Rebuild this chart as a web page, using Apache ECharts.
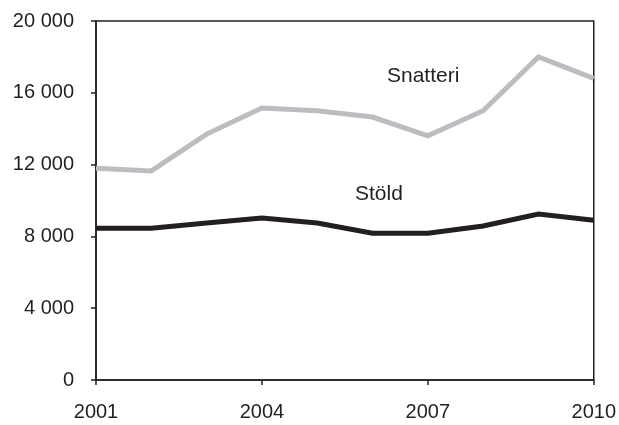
<!DOCTYPE html>
<html>
<head>
<meta charset="utf-8">
<script src="https://cdn.jsdelivr.net/npm/echarts@6/dist/echarts.min.js"></script>
<style>
html,body{margin:0;padding:0;background:#fff;}
#chart{width:619px;height:425px;}
</style>
</head>
<body>
<div id="chart"></div>
<script>
var years = ['2001','2002','2003','2004','2005','2006','2007','2008','2009','2010'];
var snatteri = [11800, 11650, 13700, 15150, 15000, 14650, 13600, 15000, 18000, 16800];
var stold = [8450, 8450, 8750, 9020, 8750, 8180, 8180, 8580, 9250, 8900];
var yTicks = [0, 4000, 8000, 12000, 16000, 20000];

var FONT = '"Liberation Sans", Arial, sans-serif';
var DARK = '#231f20';
var GRAY = '#bcbdc0';

var chart = echarts.init(document.getElementById('chart'), null, {renderer: 'canvas'});
chart.setOption({
  animation: false,
  backgroundColor: '#fff',
  grid: {left: 96, right: 25, top: 21, bottom: 45, show: true, borderColor: DARK, borderWidth: 1.5, backgroundColor: 'transparent'},
  xAxis: {
    type: 'category',
    data: years,
    boundaryGap: false,
    axisLine: {lineStyle: {color: DARK, width: 1.5}},
    axisTick: {show: true, interval: 2, length: 5, inside: false, lineStyle: {color: DARK, width: 1.5}},
    axisLabel: {interval: 2, color: '#231f20', fontFamily: FONT, fontSize: 20, margin: 22},
    splitLine: {show: false}
  },
  yAxis: {
    type: 'value',
    min: yTicks[0],
    max: yTicks[yTicks.length - 1],
    interval: 4000,
    axisLine: {show: true, lineStyle: {color: DARK, width: 1.5}},
    axisTick: {show: true, length: 5, lineStyle: {color: DARK, width: 1.5}},
    axisLabel: {
      color: '#231f20', fontFamily: FONT, fontSize: 20, margin: 22,
      formatter: function (v) { return String(v).replace(/\B(?=(\d{3})+(?!\d))/g, ' '); }
    },
    splitLine: {show: false}
  },
  series: [
    {name: 'Snatteri', type: 'line', data: snatteri, symbol: 'none', lineStyle: {color: GRAY, width: 5, join: 'miter'}, z: 2},
    {name: 'Stöld', type: 'line', data: stold, symbol: 'none', lineStyle: {color: DARK, width: 5, join: 'miter'}, z: 3}
  ],
  graphic: [
    {type: 'text', left: 387, top: 66, style: {text: 'Snatteri', font: '21px ' + FONT, fill: DARK}},
    {type: 'text', left: 355, top: 184, style: {text: 'Stöld', font: '21px ' + FONT, fill: DARK}}
  ]
});
</script>
</body>
</html>
